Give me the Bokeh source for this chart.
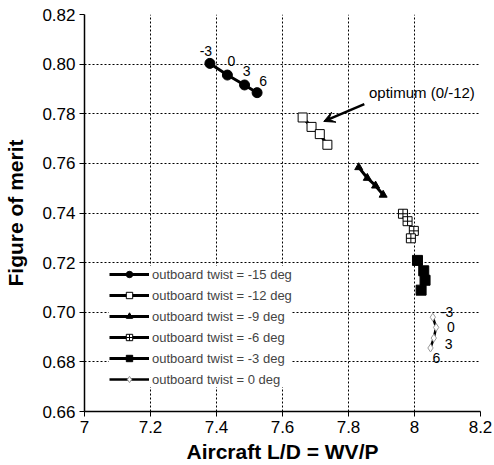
from bokeh.plotting import figure
from bokeh.models import (ColumnDataSource, FixedTicker, Legend, LegendItem, Arrow, VeeHead, Label)
from bokeh.core.properties import value
from bokeh.embed import file_html
from bokeh.resources import INLINE

# ---- data ----
twist_labels = ["outboard twist = -15 deg", "outboard twist = -12 deg", "outboard twist = -9 deg",
                "outboard twist = -6 deg", "outboard twist = -3 deg", "outboard twist = 0 deg"]
ld_m15 = [7.380, 7.433, 7.485, 7.523]
fm_m15 = [0.8003, 0.7956, 0.7916, 0.7885]
ld_m12 = [7.661, 7.688, 7.713, 7.736]
fm_m12 = [0.7785, 0.7747, 0.7718, 0.7675]
ld_m9 = [7.831, 7.857, 7.882, 7.905]
fm_m9 = [0.7584, 0.7541, 0.7510, 0.7473]
ld_m6 = [7.965, 7.979, 7.998, 7.989]
fm_m6 = [0.7397, 0.7367, 0.7328, 0.7298]
ld_m3 = [8.009, 8.028, 8.032, 8.020]
fm_m3 = [0.7209, 0.7167, 0.7129, 0.7089]
ld_0 = [8.0555, 8.0655, 8.0585, 8.0485]
fm_0 = [0.6980, 0.6939, 0.6896, 0.6856]
inboard_labels = ["-3", "0", "3", "6"]

x_ticks = [7, 7.2, 7.4, 7.6, 7.8, 8, 8.2]
x_tick_labels = ["7", "7.2", "7.4", "7.6", "7.8", "8", "8.2"]
y_ticks = [0.66, 0.68, 0.70, 0.72, 0.74, 0.76, 0.78, 0.80, 0.82]
y_tick_labels = ["0.66", "0.68", "0.70", "0.72", "0.74", "0.76", "0.78", "0.80", "0.82"]

optimum_text = "optimum (0/-12)"
optimum_arrow = (7.848, 0.7839, 7.725, 0.7769)
optimum_text_pos = (7.862, 0.7885)

FONT = "Liberation Sans"

p = figure(frame_width=396, frame_height=397, x_range=(7, 8.2), y_range=(0.66, 0.82),
           output_backend="svg", toolbar_location=None,
           min_border_left=84, min_border_top=14, min_border_right=14, min_border_bottom=44)
p.outline_line_color = None
p.background_fill_color = "white"

for ax in (p.xaxis[0], p.yaxis[0]):
    ax.axis_line_color = "black"
    ax.axis_line_width = 1.5
    ax.major_tick_line_color = "black"
    ax.major_tick_out = 5
    ax.major_tick_in = 0
    ax.minor_tick_line_color = None
    ax.major_label_text_font = FONT
    ax.major_label_text_font_size = "17px"
    ax.major_label_text_color = "black"
    ax.axis_label_text_font = FONT
    ax.axis_label_text_font_size = "21px"
    ax.axis_label_text_font_style = "bold"
    ax.axis_label_text_color = "black"
    ax.major_label_standoff = 4

p.xaxis.axis_label_standoff = 4
p.yaxis.axis_label_standoff = 12

p.xaxis.ticker = FixedTicker(ticks=x_ticks)
p.xaxis.major_label_overrides = {t: l for t, l in zip(x_ticks, x_tick_labels)}
p.yaxis.ticker = FixedTicker(ticks=y_ticks)
p.yaxis.major_label_overrides = {t: l for t, l in zip(y_ticks, y_tick_labels)}
p.xaxis.axis_label = "Aircraft L/D = WV/P"
p.yaxis.axis_label = "Figure of merit"

for g in (p.xgrid[0], p.ygrid[0]):
    g.grid_line_color = "black"
    g.grid_line_dash = "2 2"
    g.grid_line_width = 1

series = [
    (ld_m15, fm_m15, "circle", 10, "black", "black", 3),
    (ld_m12, fm_m12, "square", 9, "white", "black", 3),
    (ld_m9, fm_m9, "triangle", 8, "black", "black", 3),
    (ld_m6, fm_m6, "square_cross", 9, "white", "black", 3),
    (ld_m3, fm_m3, "square", 10, "black", "black", 3),
    (ld_0, fm_0, "diamond", 8, "white", "#999999", 2.5),
]

items = []
for (xs, ys, marker, size, fill, mline, lw), lab in zip(series, twist_labels):
    src = ColumnDataSource(dict(x=xs, y=ys))
    r1 = p.line("x", "y", source=src, line_color="black", line_width=lw)
    r2 = p.scatter("x", "y", source=src, marker=marker, size=size, fill_color=fill,
                   line_color=mline, line_width=1)
    items.append(LegendItem(label=lab, renderers=[r1, r2]))

legend = Legend(items=items, location=(25, 24), label_text_font=FONT, label_text_font_size="13px",
                glyph_width=40, glyph_height=16, label_height=16, spacing=5, padding=4,
                label_standoff=3, border_line_color=None, background_fill_color="white",
                background_fill_alpha=1, margin=0)
p.add_layout(legend, "center")

# point labels
src_l1 = ColumnDataSource(dict(x=ld_m15, y=fm_m15, t=inboard_labels,
                               dx=[-4, 4, 2, 6], dy=[-7, -9, -9, -7]))
p.text("x", "y", text="t", source=src_l1, text_font=value(FONT), text_font_size="14px",
       text_align="center", text_baseline="bottom", x_offset="dx", y_offset="dy", text_color="black")
src_l2 = ColumnDataSource(dict(x=ld_0, y=fm_0, t=inboard_labels,
                               dx=[8, 11, 11, 2], dy=[-5, 0, 6, 10]))
p.text("x", "y", text="t", source=src_l2, text_font=value(FONT), text_font_size="14px",
       text_align="left", text_baseline="middle", x_offset="dx", y_offset="dy", text_color="black")

# annotation
p.add_layout(Arrow(end=VeeHead(size=11, fill_color="black", line_color="black"),
                   x_start=optimum_arrow[0], y_start=optimum_arrow[1],
                   x_end=optimum_arrow[2], y_end=optimum_arrow[3],
                   line_color="black", line_width=2.5))
p.add_layout(Label(x=optimum_text_pos[0], y=optimum_text_pos[1], text=optimum_text,
                   text_font=FONT, text_font_size="15px", text_baseline="middle",
                   text_align="left", text_color="black"))

open("out.html", "w").write(file_html(p, INLINE))
